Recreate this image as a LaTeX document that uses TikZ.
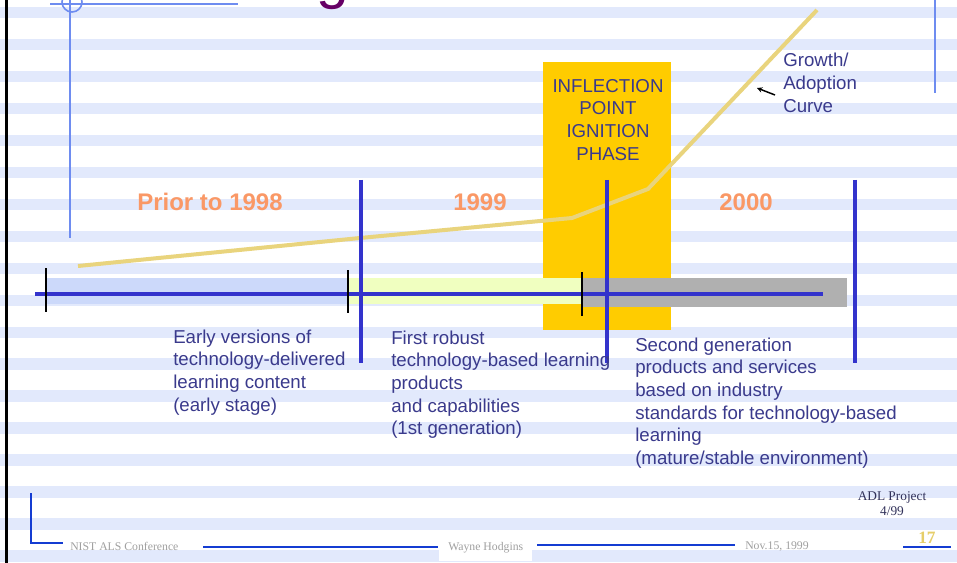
\documentclass[tikz,border=0pt]{standalone}
\usepackage{fontspec}
\setmainfont{Liberation Serif}
\setsansfont{Liberation Sans}
\usetikzlibrary{arrows.meta}

\definecolor{stripeblue}{RGB}{226,233,252}
\definecolor{cornflower}{RGB}{110,140,240}
\definecolor{barblue}{RGB}{51,51,204}
\definecolor{footblue}{RGB}{20,60,210}
\definecolor{phaseyellow}{RGB}{255,204,0}
\definecolor{curvetan}{RGB}{233,212,125}
\definecolor{yearorange}{RGB}{250,152,102}
\definecolor{textnavy}{RGB}{58,58,140}
\definecolor{adlnavy}{RGB}{50,50,90}
\definecolor{titlepurple}{RGB}{102,0,102}
\definecolor{footgray}{RGB}{160,160,160}
\definecolor{pagegold}{RGB}{230,206,105}
\definecolor{lightbluebar}{RGB}{204,217,250}
\definecolor{lightyellowbar}{RGB}{240,255,192}
\definecolor{graybar}{RGB}{176,176,176}

\tikzset{
  year/.style={font=\sffamily\bfseries\fontsize{18}{20}\selectfont, text=yearorange, inner sep=0pt, anchor=base},
  blurb/.style={font=\sffamily\fontsize{14}{17}\selectfont, text=textnavy, align=left, inner sep=0pt, anchor=north west},
  footer/.style={font=\fontsize{8.8}{10}\selectfont, text=footgray, inner sep=0pt, anchor=base west},
  divider/.style={barblue, line width=3pt},
  yeartick/.style={black, line width=1.5pt},
  footline/.style={footblue, line width=1.5pt}
}

\begin{document}
\begin{tikzpicture}[x=0.75pt, y=-0.75pt]
  \useasboundingbox (0,0) rectangle (957,563);
  \clip (0,0) rectangle (957,563);

  % Background stripes
  \fill[white] (0,0) rectangle (957,563);
  \foreach \k in {0,...,17}
    \fill[stripeblue] (0,{7+31.95*\k}) rectangle (957,{18.5+31.95*\k});

  % Frame lines
  \draw[black, line width=2.25pt] (6.5,0) -- (6.5,563);
  \draw[cornflower, line width=1.5pt] (50,4.5) -- (238,4.5);
  \draw[cornflower, line width=1.5pt] (70,0) -- (70,238);
  \draw[cornflower, line width=1.2pt] (72,2) circle (10);
  \draw[cornflower, line width=1.5pt] (935,0) -- (935,93);

  % Title (cut off at the top)
  \node[font=\sffamily\fontsize{44}{50}\selectfont, text=titlepurple, inner sep=0pt, anchor=base] (titleg) at (333,-2) {g};

  % Inflection phase box
  \fill[phaseyellow] (543,62) rectangle (671,330);
  \node[blurb, anchor=north, align=center] (phase) at (608,79) {INFLECTION\\POINT\\IGNITION\\PHASE};

  % Time bars
  \fill[lightbluebar] (46,278) rectangle (348,304);
  \fill[lightyellowbar] (348,278) rectangle (582,304);
  \fill[graybar] (582,278) rectangle (847,307);

  % Growth curve
  \draw[curvetan, line width=3pt] (78,266) -- (360,238) -- (572,218) -- (648,189) -- (817,10);

  % Time line
  \draw[divider] (35,294) -- (823,294);
  \draw[yeartick] (46,268) -- (46,312);
  \draw[yeartick] (348,270) -- (348,313);
  \draw[yeartick] (582,272) -- (582,316);
  \draw[divider] (361,180) -- (361,363);
  \draw[divider] (607,180) -- (607,363);
  \draw[divider] (855,180) -- (855,363);

  \node[year] (prior) at (210,210) {Prior to 1998};
  \node[year] (y1999) at (480,210) {1999};
  \node[year] (y2000) at (746,210) {2000};

  \node[blurb] (early) at (173,329.5) {Early versions of\\technology-delivered\\learning content\\(early stage)};
  \node[blurb] (first) at (391,330.5) {First robust\\technology-based learning\\products\\and capabilities\\(1st generation)};
  \node[blurb] (second) at (635,337.5) {Second generation\\products and services\\based on industry\\standards for technology-based\\learning\\(mature/stable environment)};

  % Curve label
  \node[blurb] (growth) at (783,53) {Growth/\\Adoption\\Curve};
  \coordinate (curvept) at (757,88);
  \coordinate (arrowtail) at (775,95);
  \draw[-{Stealth[length=4pt,width=4pt]}, line width=1.1pt] (arrowtail) -- (curvept);

  % Footer
  \draw[footline] (31,493) -- (31,543) -- (63,543);
  \node[footer] (nist) at (70,550) {NIST ALS Conference};
  \draw[footline] (203,547) -- (438,547);
  \node[footer, fill=white, inner xsep=6.75pt, inner ysep=6pt] (wayne) at (439,550) {Wayne Hodgins};
  \draw[footline] (537,545) -- (735,545);
  \node[footer] (nov) at (745,549) {Nov.15, 1999};
  \node[font=\fontsize{10}{11.25}\selectfont, text=adlnavy, align=center, inner sep=0pt, anchor=north] (adl) at (892,491) {ADL Project\\4/99};
  \node[font=\bfseries\fontsize{13}{15}\selectfont, text=pagegold, inner sep=0pt, anchor=base west] (pagenum) at (918,543) {17};
  \draw[footline] (903,547) -- (951,547);
\end{tikzpicture}
\end{document}
